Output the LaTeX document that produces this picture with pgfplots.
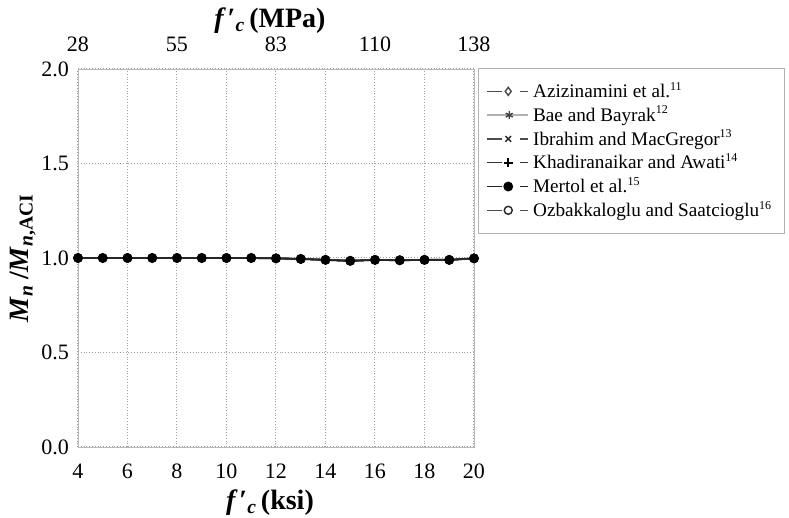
\documentclass[border=0pt]{standalone}
\usepackage{fontspec}
\setmainfont{Liberation Serif}
\usepackage{pgfplots}
\pgfplotsset{compat=1.18}
\pgfplotstableread{
x y
4 1.000
5 1.000
6 1.000
7 1.000
8 1.000
9 1.000
10 1.000
11 1.000
12 0.998
13 0.995
14 0.990
15 0.985
16 0.990
17 0.988
18 0.990
19 0.990
20 0.998
}\dataA
\newcommand{\fc}{\textit{f}\kern0.8pt′\textsubscript{\textit{c}}\kern2pt}
\newcommand{\sref}[1]{\textsuperscript{\fontsize{6}{6}\selectfont #1}}
\pgfplotsset{
  mylegend/.style={legend image code/.code={%
    \draw[##1,mark=none] (0pt,0pt)--(7.5pt,0pt);
    \draw[##1,mark=none] (16.5pt,0pt)--(20.5pt,0pt);
    \draw[##1,only marks] plot coordinates {(10.5pt,0pt)};}},
  fulllegend/.style={legend image code/.code={%
    \draw[##1,mark=none] (0pt,0pt)--(20.5pt,0pt);
    \draw[##1,only marks] plot coordinates {(11pt,0pt)};}},
}
\begin{document}
\begin{tikzpicture}
\useasboundingbox (-39pt,-35.5pt) rectangle (355.5pt,223.5pt);
\begin{axis}[
  at={(0,0)}, anchor=south west,
  scale only axis, width=198pt, height=189pt,
  xmin=4, xmax=20, ymin=0, ymax=2,
  xtick={4,6,...,20}, ytick={0,0.5,...,2},
  axis line style={gray!55},
  major tick length=0pt,
  grid=major,
  major grid style={densely dotted, gray!75, line width=0.5pt},
  yticklabel style={xshift=-1pt, /pgf/number format/.cd, fixed, fixed zerofill, precision=1},
  /pgf/number format/assume math mode=true,
  tick label style={font=\fontsize{11}{12}\selectfont},
  xticklabel style={text height=8pt, text depth=0pt, anchor=north, yshift=-4pt},
  xlabel={\bfseries\fc(ksi)},
  ylabel={\bfseries\textit{M}\textsubscript{\textit{n}}\,/\textit{M}\textsubscript{\textit{n},ACI}},
  label style={font=\fontsize{14}{16}\selectfont},
  xlabel style={yshift=1pt, xshift=-3pt},
  ylabel style={yshift=-4pt},
  mylegend,
  legend cell align=left,
  legend style={at={(1.01,1.003)}, anchor=north west, draw=gray!60,
    font=\fontsize{9.6}{11}\selectfont, row sep=-1.2pt, inner xsep=4pt, inner ysep=5pt},
]
\addplot[black!70, line width=0.7pt, mark=diamond*, mark size=2pt, mark options={fill=white, solid}] table {\dataA};
\addlegendentry{Azizinamini et al.\sref{11}}
\addplot[black!30, line width=0.7pt, mark=asterisk, mark size=2pt, mark options={black!75}, fulllegend] table {\dataA};
\addlegendentry{Bae and Bayrak\sref{12}}
\addplot[black!70, line width=0.7pt, mark=x, mark size=2pt, mark options={black!85, solid}] table {\dataA};
\addlegendentry{Ibrahim and MacGregor\sref{13}}
\addplot[black!80, line width=0.7pt, mark=+, mark size=2.2pt, mark options={black, line width=1.1pt}] table {\dataA};
\addlegendentry{Khadiranaikar and Awati\sref{14}}
\addplot[black!85, line width=0.9pt, mark=*, mark size=2pt, mark options={black}] table {\dataA};
\addlegendentry{Mertol et al.\sref{15}}
\addplot[black!70, line width=0.7pt, mark=o, mark size=2pt, mark options={fill=white, black!85}, forget plot] table {\dataA};
\addlegendimage{black!70, line width=0.7pt, mark=o, mark size=2pt, mark options={fill=white, black!85}}
\addlegendentry{Ozbakkaloglu and Saatcioglu\sref{16}}
\addplot[black!85, line width=0.9pt, mark=*, mark size=1.9pt, mark options={black}, forget plot] table {\dataA};
\end{axis}
\begin{axis}[
  at={(0,0)}, anchor=south west,
  scale only axis, width=198pt, height=189pt,
  xmin=4, xmax=20, ymin=0, ymax=2,
  axis x line*=top, axis y line=none,
  axis line style={gray!55},
  major tick length=0pt,
  xtick={4,8,12,16,20}, xticklabels={28,55,83,110,138},
  tick label style={font=\fontsize{11}{12}\selectfont},
  xticklabel style={text height=8pt, text depth=0pt, anchor=south, yshift=5pt},
  xlabel={\bfseries\fc(MPa)},
  label style={font=\fontsize{14}{16}\selectfont},
  xlabel style={yshift=-5.5pt, xshift=-3pt},
]
\end{axis}
\end{tikzpicture}
\end{document}
